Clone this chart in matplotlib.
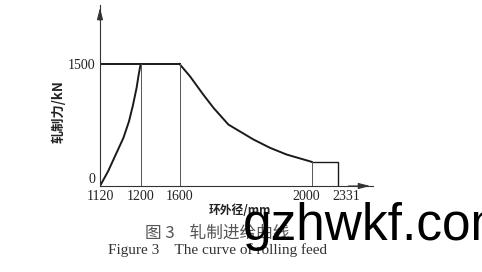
import numpy as np
import matplotlib
matplotlib.use("Agg")
import matplotlib.pyplot as plt
from matplotlib.transforms import ScaledTranslation

# ring outer diameter (mm) vs rolling force (kN)
rise_x = [1120, 1136, 1151, 1166, 1177, 1185, 1192, 1196, 1200]
rise_y = [0, 182, 387, 591, 795, 1000, 1209, 1368, 1500]
top_x = [1120, 1600]
top_y = [1500, 1500]
fall_x = [1600, 1632, 1672, 1703, 1748, 1824, 1874, 1924, 2000]
fall_y = [1500, 1347, 1123, 960, 755, 571, 469, 387, 297]
end_x = [2000, 2331, 2331]
end_y = [297, 297, 0]
guide_x = [1200, 1600, 2000]
guide_top = [1500, 1500, 297]

x_ticks = [1120, 1200, 1600, 2000, 2331]
y_ticks = [0, 1500]

# the x axis in the figure is schematic, not linear: piecewise mapping
knot_val = np.array([1120, 1200, 1600, 2000, 2331, 2800])
knot_pos = np.array([0.0, 40.7, 79.5, 211.7, 238.3, 273.0])


def fwd(v):
    return np.interp(v, knot_val, knot_pos)


def inv(p):
    return np.interp(p, knot_pos, knot_val)


serif = ["Liberation Serif", "DejaVu Serif"]
cjk = ["Noto Sans CJK SC", "DejaVu Sans"]

fig = plt.figure(figsize=(4.82, 2.72), dpi=100)
ax = fig.add_axes([100 / 482, 86 / 272, 273 / 482, 181 / 272])
ax.set_xscale("function", functions=(fwd, inv))
ax.set_xlim(1120, 2800)
ax.set_ylim(0, 2225)

lc = "#1a1a1a"
ax.plot(rise_x, rise_y, color=lc, lw=1.4, solid_capstyle="round")
ax.plot(top_x, top_y, color=lc, lw=1.4)
ax.plot(fall_x, fall_y, color=lc, lw=1.4, solid_joinstyle="round")
ax.plot(end_x, end_y, color=lc, lw=1.0)
for gx, gt in zip(guide_x, guide_top):
    ax.plot([gx, gx], [0, gt], color="#555555", lw=0.7)

for s in ["top", "right"]:
    ax.spines[s].set_visible(False)
for s in ["left", "bottom"]:
    ax.spines[s].set_linewidth(0.8)
    ax.spines[s].set_color("#333333")

ap = dict(arrowstyle="-|>,head_length=0.7,head_width=0.18", color="#333333", lw=0.8)
ax.annotate("", xy=(0, 1.0), xytext=(0, 0.9), xycoords="axes fraction", arrowprops=ap)
ax.annotate("", xy=(1.0, 0), xytext=(0.9, 0), xycoords="axes fraction", arrowprops=ap)

ax.set_xticks(x_ticks)
ax.set_xticklabels([str(v) for v in x_ticks], family=serif, fontsize=10, color="#222222")
ax.set_yticks(y_ticks)
ax.set_yticklabels([str(v) for v in y_ticks], family=serif, fontsize=10, color="#222222")
ax.yaxis.get_ticklabels()[0].set_verticalalignment("bottom")
ax.tick_params(length=0, pad=3)
ax.minorticks_off()

# the last two labels sit off-centre so they do not collide
shifts = {3: -5.7, 4: 8.4}
for i, lab in enumerate(ax.get_xticklabels()):
    if i in shifts:
        lab.set_transform(lab.get_transform()
                          + ScaledTranslation(shifts[i] / 100, 0, fig.dpi_scale_trans))

ax.text(-0.153, 0.413, "轧制力/kN", transform=ax.transAxes, rotation=90,
        ha="center", va="center", family=cjk, fontsize=9.5, fontweight="bold",
        color="#222222")
fig.text(240 / 482, 1 - 211 / 272, "环外径/mm", ha="center", va="center",
         family=cjk, fontsize=8.5, fontweight="bold", color="#222222")
fig.text(217 / 482, 1 - 233 / 272, "图 3    轧制进给曲线", ha="center", va="center",
         family=cjk, fontsize=12, fontweight="light", color="#555555")
fig.text(218 / 482, 1 - 250 / 272, "Figure 3    The curve of rolling feed",
         ha="center", va="center", family=serif, fontsize=11, color="#333333")

# watermark
fig.text(243 / 482, 32 / 272, "gzhwkf.com", ha="left", va="baseline",
         family=["Liberation Sans", "DejaVu Sans"], fontsize=37, color="black")

fig.savefig("out.png", dpi=100)
